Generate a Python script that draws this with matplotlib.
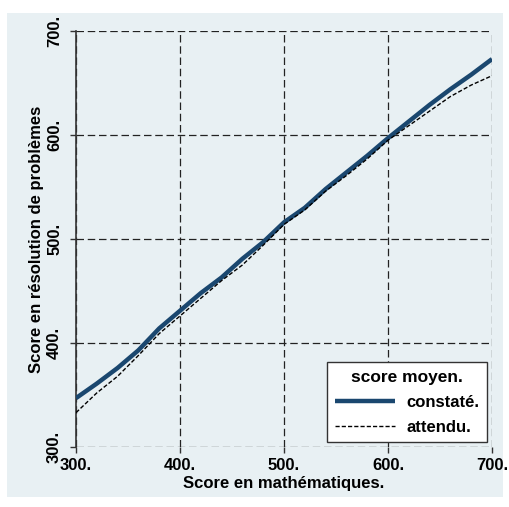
import matplotlib
matplotlib.use("Agg")
import matplotlib.pyplot as plt
from matplotlib.patches import Rectangle

# score en mathématiques (axe x)
math_score = [300, 320, 340, 360, 380, 400, 420, 440, 460, 480, 500,
              520, 540, 560, 580, 600, 620, 640, 660, 680, 700]
# score moyen constaté en résolution de problèmes
constate = [347, 361, 376, 393, 414, 431, 448, 463, 481, 497, 516,
            530, 548, 564, 580, 597, 613, 629, 644, 658, 673]
# score moyen attendu
attendu = [333, 352, 368, 388, 409, 426, 443, 460, 475, 494, 514,
           528, 546, 561, 577, 595, 609, 623, 637, 648, 657]

ticks = [300, 400, 500, 600, 700]
tick_labels = ["300.", "400.", "500.", "600.", "700."]

plt.rcParams['font.family'] = ['Liberation Sans', 'DejaVu Sans']
plt.rcParams['font.weight'] = 'bold'
plt.rcParams['font.size'] = 12

bg = '#e8f0f3'
navy = '#1a476f'

fig = plt.figure(figsize=(5.10, 5.07), dpi=100, facecolor='white')
fig.patches.append(Rectangle((7 / 510, 10 / 507), 496 / 510, 484 / 507,
                             transform=fig.transFigure, facecolor=bg,
                             edgecolor='none', zorder=-10))

ax = fig.add_axes([76 / 510, 60 / 507, 416 / 510, 416 / 507])
ax.set_zorder(5)
ax.patch.set_visible(False)

ax.plot(math_score, constate, color=navy, linewidth=3.2, label='constaté.',
        solid_capstyle='butt', zorder=3)
ax.plot(math_score, attendu, color='black', linewidth=1.0, linestyle=(0, (3, 1.5)),
        label='attendu.', zorder=4)

ax.set_xlim(300, 700)
ax.set_ylim(300, 700)
ax.set_xticks(ticks)
ax.set_xticklabels(tick_labels)
ax.set_yticks(ticks)
ax.set_yticklabels(tick_labels, rotation=90, va='center')

ax.grid(True, color='#222222', linestyle=(0, (6, 3)), linewidth=0.9)
ax.set_axisbelow(True)
for side in ['top', 'right', 'bottom']:
    ax.spines[side].set_visible(False)
ax.spines['left'].set_color('#333333')
ax.spines['left'].set_linewidth(1.2)
ax.tick_params(axis='both', length=4, width=1, color='#333333')
ax.tick_params(axis='x', pad=4)
ax.tick_params(axis='y', pad=6)

ax.set_xlabel('Score en mathématiques.', fontweight='bold', labelpad=2)
ax.set_ylabel('Score en résolution de problèmes', fontweight='bold', labelpad=2)

leg = ax.legend(title='score moyen.', loc='lower right',
                bbox_to_anchor=(0.988, 0.012), borderaxespad=0,
                frameon=True, fancybox=False,
                edgecolor='#333333', facecolor='white', framealpha=1,
                handlelength=3.6, borderpad=0.45, labelspacing=0.6,
                fontsize=12, title_fontsize=12.5, handletextpad=0.7)
leg.get_title().set_fontweight('bold')
leg.get_frame().set_linewidth(1.0)

fig.savefig('out.png', dpi=100, facecolor='white')
